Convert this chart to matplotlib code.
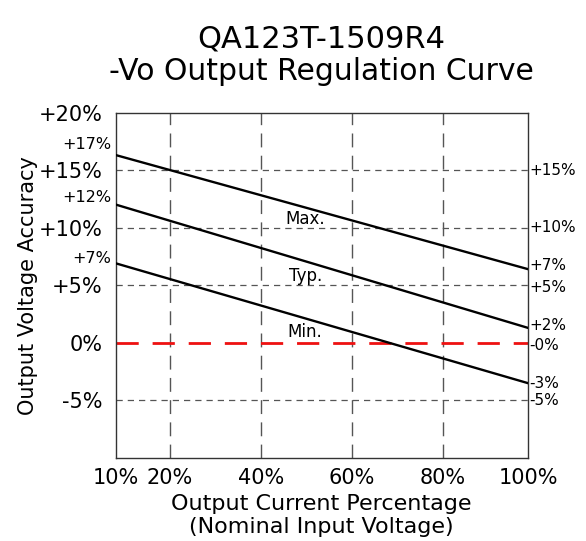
import numpy as np
import matplotlib.pyplot as plt

# Data
load_pct = [10, 100]
max_curve = [16.3, 6.4]
typ_curve = [12.0, 1.3]
min_curve = [6.9, -3.5]

x_ticks = [10, 20, 40, 60, 80, 100]
x_ticklabels = ["10%", "20%", "40%", "60%", "80%", "100%"]
y_ticks = [-5, 0, 5, 10, 15, 20]
y_ticklabels = ["-5%", "0%", "+5%", "+10%", "+15%", "+20%"]
grid_y = [-5, 5, 10, 15]
grid_x = [20, 40, 60, 80]

left_labels = [("+17%", 17.2), ("+12%", 12.6), ("+7%", 7.3)]
right_labels = [("+15%", 15), ("+10%", 10), ("+7%", 6.7), ("+5%", 4.8),
                ("+2%", 1.5), ("-0%", -0.2), ("-3%", -3.5), ("-5%", -5)]
curve_names = [("Max.", 10), ("Typ.", 5), ("Min.", 0.2)]

# the original drawing spaces the 10% -> 20% step wider than the rest
scale_pts = [10, 20, 80, 100]
scale_pos = [0, 54, 327, 412]

def fwd(x):
    return np.interp(x, scale_pts, scale_pos)

def inv(p):
    return np.interp(p, scale_pos, scale_pts)

fig = plt.figure(figsize=(5.86, 5.41), dpi=100)
ax = fig.add_axes([0.198, 0.1534, 0.703, 0.6386])

ax.set_xscale("function", functions=(fwd, inv))
ax.set_xlim(10, 100)
ax.set_ylim(-10, 20)

# grid
for gx in grid_x:
    ax.axvline(gx, color="#555555", lw=1.0, dashes=(10, 6), zorder=1)
for gy in grid_y:
    ax.axhline(gy, color="#555555", lw=0.9, dashes=(5, 4), zorder=1)
ax.axhline(0, color="#ee1111", lw=2.0, dashes=(8, 5), zorder=2)

for curve in (max_curve, typ_curve, min_curve):
    ax.plot(load_pct, curve, color="black", lw=1.7, zorder=3)

ax.set_xticks(x_ticks)
ax.set_xticklabels(x_ticklabels, fontsize=15)
ax.set_yticks(y_ticks)
ax.set_yticklabels(y_ticklabels, fontsize=15)
ax.minorticks_off()
ax.tick_params(axis="x", length=0, pad=7)
ax.tick_params(axis="y", length=0, pad=10)

for s in ax.spines.values():
    s.set_color("#333333")
    s.set_linewidth(1.0)

ytrans = ax.get_yaxis_transform()
for txt, y in left_labels:
    ax.text(-0.012, y, txt, transform=ytrans, ha="right", va="center",
            fontsize=11.5, clip_on=False)
for txt, y in right_labels:
    ax.text(1.003, y, txt, transform=ytrans, ha="left", va="center",
            fontsize=11, clip_on=False)
for txt, y in curve_names:
    ax.text(49.7, y, txt, ha="center", va="bottom", fontsize=12)

ax.set_ylabel("Output Voltage Accuracy", fontsize=15)
ax.yaxis.set_label_coords(-0.19, 0.5)
fig.text(0.549, 0.068, "Output Current Percentage", ha="center", va="center", fontsize=16)
fig.text(0.549, 0.025, "(Nominal Input Voltage)", ha="center", va="center", fontsize=16)

fig.text(0.549, 0.928, "QA123T-1509R4", ha="center", va="center", fontsize=22)
fig.text(0.549, 0.868, "-Vo Output Regulation Curve", ha="center", va="center", fontsize=21.5)

fig.savefig("out.png", dpi=100)
